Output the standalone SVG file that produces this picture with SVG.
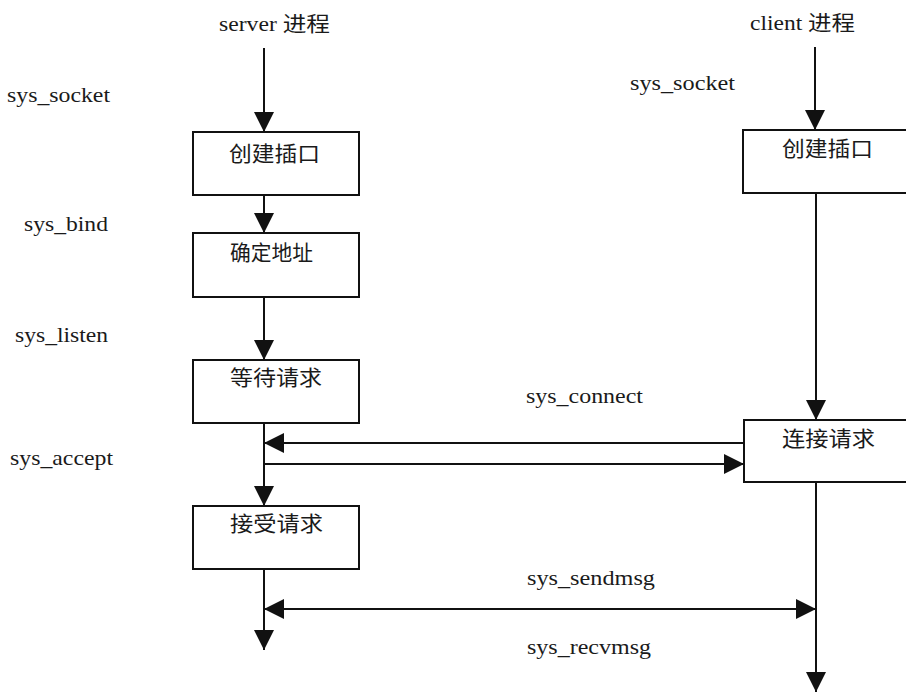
<svg xmlns="http://www.w3.org/2000/svg" width="906" height="693" viewBox="0 0 906 693">
<style>
  .box{fill:#fff;stroke:#111;stroke-width:2}
  .ln{stroke:#111;stroke-width:2;fill:none}
  .t{font-family:"Liberation Serif","Noto Sans CJK SC",serif;font-size:21px;fill:#1a1a1a}
  .c{font-family:"Noto Sans CJK SC","Liberation Serif",serif;font-size:21px;fill:#1a1a1a}
</style>
<defs>
  <marker id="ah" viewBox="0 0 20 20" refX="20" refY="10" markerWidth="20" markerHeight="20" markerUnits="userSpaceOnUse" orient="auto-start-reverse">
    <path d="M0,0 L20,10 L0,20 z" fill="#111"/>
  </marker>
</defs>
<rect width="906" height="693" fill="#fff"/>

<g id="connectors">
  <line class="ln" x1="264" y1="48" x2="264" y2="132" marker-end="url(#ah)"/>
  <line class="ln" x1="815" y1="47" x2="815" y2="130" marker-end="url(#ah)"/>
  <line class="ln" x1="264" y1="195" x2="264" y2="233" marker-end="url(#ah)"/>
  <line class="ln" x1="264" y1="297" x2="264" y2="360" marker-end="url(#ah)"/>
  <line class="ln" x1="264" y1="423" x2="264" y2="506" marker-end="url(#ah)"/>
  <line class="ln" x1="816" y1="193" x2="816" y2="420" marker-end="url(#ah)"/>
  <line class="ln" x1="744" y1="443" x2="264" y2="443" marker-end="url(#ah)"/>
  <line class="ln" x1="264" y1="464" x2="744" y2="464" marker-end="url(#ah)"/>
  <line class="ln" x1="264" y1="569" x2="264" y2="650" marker-end="url(#ah)"/>
  <line class="ln" x1="816" y1="482" x2="816" y2="692" marker-end="url(#ah)"/>
  <line class="ln" x1="264" y1="609" x2="816" y2="609" marker-start="url(#ah)" marker-end="url(#ah)"/>
</g>

<g id="labels">
  <text class="t" x="219" y="31" textLength="111" lengthAdjust="spacingAndGlyphs">server 进程</text>
  <text class="t" x="750" y="30" textLength="105" lengthAdjust="spacingAndGlyphs">client 进程</text>
  <text class="t" x="7" y="102" textLength="103" lengthAdjust="spacingAndGlyphs">sys_socket</text>
  <text class="t" x="630" y="90" textLength="105" lengthAdjust="spacingAndGlyphs">sys_socket</text>
  <text class="t" x="24" y="231" textLength="84" lengthAdjust="spacingAndGlyphs">sys_bind</text>
  <text class="t" x="15" y="342" textLength="93" lengthAdjust="spacingAndGlyphs">sys_listen</text>
  <text class="t" x="10" y="465" textLength="103" lengthAdjust="spacingAndGlyphs">sys_accept</text>
  <text class="t" x="526" y="403" textLength="117" lengthAdjust="spacingAndGlyphs">sys_connect</text>
  <text class="t" x="527" y="585" textLength="128" lengthAdjust="spacingAndGlyphs">sys_sendmsg</text>
  <text class="t" x="527" y="654" textLength="124" lengthAdjust="spacingAndGlyphs">sys_recvmsg</text>
</g>

<g id="s_create">
  <rect class="box" x="193" y="132" width="166" height="63"/>
  <text class="c" x="229" y="161" textLength="91" lengthAdjust="spacingAndGlyphs">创建插口</text>
</g>
<g id="s_bind">
  <rect class="box" x="193" y="233" width="166" height="64"/>
  <text class="c" x="230" y="260" textLength="83" lengthAdjust="spacingAndGlyphs">确定地址</text>
</g>
<g id="s_listen">
  <rect class="box" x="193" y="360" width="166" height="63"/>
  <text class="c" x="230" y="385" textLength="92" lengthAdjust="spacingAndGlyphs">等待请求</text>
</g>
<g id="s_accept">
  <rect class="box" x="193" y="506" width="166" height="63"/>
  <text class="c" x="230" y="531" textLength="93" lengthAdjust="spacingAndGlyphs">接受请求</text>
</g>
<g id="c_create">
  <rect class="box" x="743" y="130" width="170" height="63"/>
  <text class="c" x="782" y="156" textLength="91" lengthAdjust="spacingAndGlyphs">创建插口</text>
</g>
<g id="c_connect">
  <rect class="box" x="744" y="420" width="170" height="62"/>
  <text class="c" x="782" y="446" textLength="93" lengthAdjust="spacingAndGlyphs">连接请求</text>
</g>
</svg>
